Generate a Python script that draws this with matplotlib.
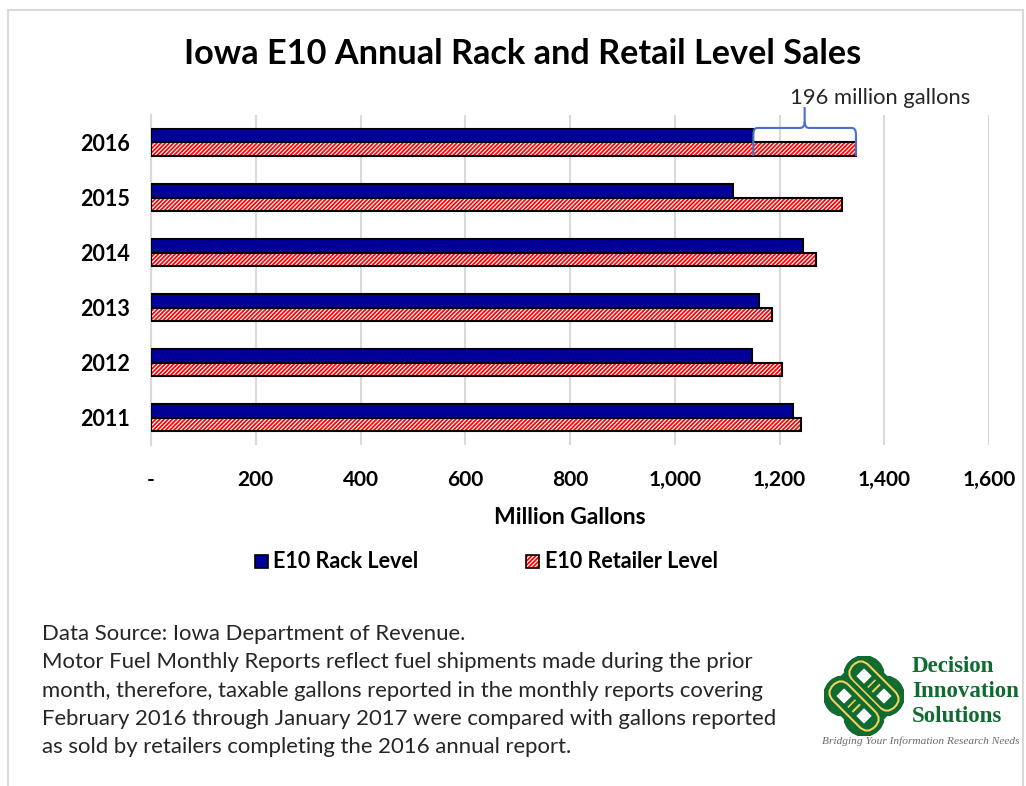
import matplotlib
matplotlib.use("Agg")
import matplotlib.pyplot as plt
from matplotlib.patches import Rectangle, FancyBboxPatch, PathPatch
from matplotlib.path import Path
import matplotlib.transforms as mtransforms
import numpy as np

# ---- data -------------------------------------------------------------
years = ["2011", "2012", "2013", "2014", "2015", "2016"]
rack_level = [1226, 1148, 1161, 1244, 1111, 1150]
retailer_level = [1241, 1205, 1185, 1269, 1319, 1346]
x_ticks = [0, 200, 400, 600, 800, 1000, 1200, 1400, 1600]
x_tick_labels = ["-", "200", "400", "600", "800", "1,000", "1,200", "1,400", "1,600"]
gap_label = "196 million gallons"

note_lines = [
    "Data Source: Iowa Department of Revenue.",
    "Motor Fuel Monthly Reports reflect fuel shipments made during the prior",
    "month, therefore, taxable gallons reported in the monthly reports covering",
    "February 2016 through January 2017 were compared with gallons reported",
    "as sold by retailers completing the 2016 annual report.",
]

W, H = 1026, 786
plt.rcParams["font.family"] = ["Lato", "DejaVu Sans"]
plt.rcParams["hatch.linewidth"] = 1.25

HATCH = "////////"

fig = plt.figure(figsize=(W / 100, H / 100), dpi=100)


def fx(x):
    return x / W


def fy(y):
    return 1 - y / H


# outer chart frame
fig.patches.append(Rectangle((fx(8), fy(800)), fx(1023) - fx(8), fy(10) - fy(800),
                             transform=fig.transFigure, fill=False,
                             edgecolor="#d9d9d9", linewidth=1.5))

ax = fig.add_axes([fx(151), fy(445), fx(989) - fx(151), fy(115) - fy(445)])

navy = "#000099"
red = "#ff0000"
h = 0.245
pos = np.arange(len(years))

ax.barh(pos + h / 2, rack_level, height=h, color=navy, edgecolor="black",
        linewidth=1.5, zorder=3)
ax.barh(pos - h / 2, retailer_level, height=h, color="white", edgecolor=red,
        hatch=HATCH, linewidth=0, zorder=3)
ax.barh(pos - h / 2, retailer_level, height=h, fill=False, edgecolor="black",
        linewidth=1.5, zorder=4)

ax.set_xlim(0, 1600)
ax.set_ylim(-0.5, len(years) - 0.5)
ax.set_xticks(x_ticks)
ax.set_xticklabels(x_tick_labels, fontsize=15, fontweight="bold")
ax.set_yticks(pos)
ax.set_yticklabels(years, fontsize=15.5, fontweight="bold")
ax.tick_params(axis="both", length=0)
ax.tick_params(axis="x", pad=18)
ax.tick_params(axis="y", pad=15)
ax.grid(axis="x", color="#d9d9d9", linewidth=1.5, zorder=0)
for side in ["top", "right", "bottom"]:
    ax.spines[side].set_visible(False)
ax.spines["left"].set_color("#d9d9d9")
ax.spines["left"].set_linewidth(1.5)
ax.set_xlabel("Million Gallons", fontsize=16.5, fontweight="bold", labelpad=12)

# brace marking the 2016 gap between the two levels
x0, x1 = rack_level[-1], retailer_level[-1]
xm = (x0 + x1) / 2
ytop = pos[-1] + h + 0.02
r = 0.12
brace = Path(
    [(x0, pos[-1] - h), (x0, ytop - r), (x0, ytop), (x0 + 8, ytop),
     (xm - 8, ytop), (xm, ytop), (xm, ytop + r), (xm, ytop + 0.38)],
    [Path.MOVETO, Path.LINETO, Path.CURVE3, Path.CURVE3,
     Path.LINETO, Path.CURVE3, Path.CURVE3, Path.LINETO])
brace2 = Path(
    [(x1, pos[-1] - h), (x1, ytop - r), (x1, ytop), (x1 - 8, ytop),
     (xm + 8, ytop), (xm, ytop), (xm, ytop + r)],
    [Path.MOVETO, Path.LINETO, Path.CURVE3, Path.CURVE3,
     Path.LINETO, Path.CURVE3, Path.CURVE3])
for p in (brace, brace2):
    ax.add_patch(PathPatch(p, fill=False, edgecolor="#4472c4", linewidth=1.5,
                           zorder=6, clip_on=False))
fig.text(fx(880), fy(98), gap_label, fontsize=15.8, ha="center", va="center",
         color="#262626")

# title
fig.text(fx(523), fy(54), "Iowa E10 Annual Rack and Retail Level Sales",
         fontsize=24.7, fontweight="bold", ha="center", va="center", color="black")

# legend
fig.patches.append(Rectangle((fx(255), fy(568)), fx(13) - fx(0), fy(555) - fy(568),
                             transform=fig.transFigure, facecolor=navy,
                             edgecolor="black", linewidth=1.2))
fig.text(fx(273), fy(561), "E10 Rack Level", fontsize=15.5, fontweight="bold",
         ha="left", va="center")
fig.patches.append(Rectangle((fx(526), fy(568)), fx(13) - fx(0), fy(555) - fy(568),
                             transform=fig.transFigure, facecolor="white",
                             edgecolor=red, hatch=HATCH, linewidth=0))
fig.patches.append(Rectangle((fx(526), fy(568)), fx(13) - fx(0), fy(555) - fy(568),
                             transform=fig.transFigure, fill=False,
                             edgecolor="black", linewidth=1.2))
fig.text(fx(545), fy(561), "E10 Retailer Level", fontsize=15.5, fontweight="bold",
         ha="left", va="center")

# notes
for i, line in enumerate(note_lines):
    fig.text(fx(42), fy(634 + 28.3 * i), line, fontsize=15.9, ha="left",
             va="center", color="#262626")

# logo: interlaced knot
green = "#0f6b2f"
gold = "#f2cf5b"
lax = fig.add_axes([fx(820), fy(740), fx(908) - fx(820), fy(652) - fy(740)])
lax.set_xlim(-1, 1)
lax.set_ylim(-1, 1)
lax.set_aspect("equal")
lax.axis("off")
for ang in (45, -45):
    for (cx, cy) in ((0.0, 0.32), (0.0, -0.32)):
        t = mtransforms.Affine2D().rotate_deg(ang) + lax.transData
        box = FancyBboxPatch((-0.62 + cx, -0.2 + cy), 1.24, 0.4,
                             boxstyle="round,pad=0.05,rounding_size=0.25",
                             fill=False, edgecolor=green, linewidth=8,
                             transform=t)
        lax.add_patch(box)
        box2 = FancyBboxPatch((-0.62 + cx, -0.2 + cy), 1.24, 0.4,
                              boxstyle="round,pad=0.05,rounding_size=0.25",
                              fill=False, edgecolor=gold, linewidth=1.5,
                              transform=t)
        lax.add_patch(box2)

for i, word in enumerate(["Decision", "Innovation", "Solutions"]):
    fig.text(fx(912), fy(666 + 25.5 * i), word, fontsize=16.5, fontweight="bold",
             family=["Liberation Serif", "DejaVu Serif"], color=green,
             ha="left", va="center")
fig.text(fx(822), fy(741), "Bridging Your Information Research Needs",
         fontsize=8.2, style="italic", family=["Liberation Serif", "DejaVu Serif"],
         color="#6b6b6b", ha="left", va="center")

fig.savefig("out.png", dpi=100)
